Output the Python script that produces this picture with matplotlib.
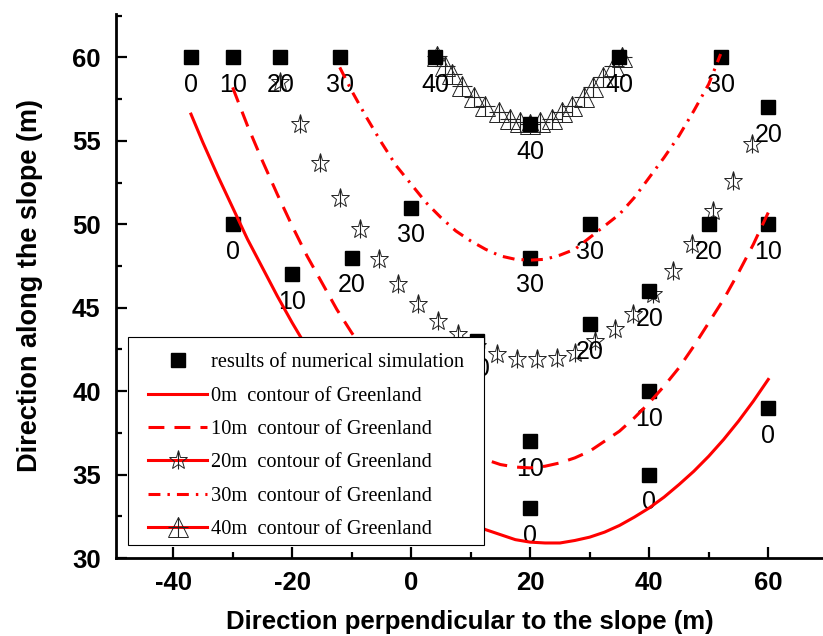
#! /usr/bin/env python3

import matplotlib.pyplot as plt
from matplotlib.lines import Line2D
from matplotlib.patches import Rectangle
from matplotlib.ticker import MultipleLocator

plt.rcParams['font.family'] = ['Liberation Sans', 'DejaVu Sans']
plt.rcParams['axes.unicode_minus'] = False

# numerical simulation results: position and contour height label
sim_x = [-37, -30, -22, -12, 4, 35, 52,
         20, 20,
         -30, -20, -10, 0, 30,
         30, 40, 50, 60, 60,
         40, 40, 60, 20, 20, 11]
sim_y = [60, 60, 60, 60, 60, 60, 60,
         56, 48,
         50, 47, 48, 51, 50,
         44, 46, 50, 57, 50,
         40, 35, 39, 37, 33, 43]
sim_lab = ['0', '10', '20', '30', '40', '40', '30',
           '40', '30',
           '0', '10', '20', '30', '30',
           '20', '20', '20', '20', '10',
           '10', '0', '0', '10', '0', '20']

# Greenland contours
c0_x = [-37, -35, -32.5, -30, -27.5, -25, -22.5, -20, -17.5, -15, -12.5, -10, -7.5, -5,
        -2.5, 0, 2.5, 5, 7.5, 10, 12.5, 15, 17.5, 20, 22.5, 25, 27.5, 30, 32.5, 35,
        37.5, 40, 42.5, 45, 47.5, 50, 52.5, 55, 57.5, 60]
c0_y = [56.6, 54.9, 52.9, 51.0, 49.1, 47.4, 45.7, 44.1, 42.6, 41.2, 39.9, 38.7, 37.5, 36.5,
        35.5, 34.7, 33.9, 33.2, 32.6, 32.1, 31.7, 31.4, 31.1, 30.95, 30.9, 30.9, 31.05, 31.25,
        31.55, 31.95, 32.45, 33.0, 33.65, 34.4, 35.2, 36.1, 37.1, 38.2, 39.4, 40.7]

c10_x = [-30, -27.5, -25, -22.5, -20, -17.5, -15, -12.5, -10, -5, 0, 5, 7.5, 10, 12.5,
         15, 17.5, 20, 22.5, 25, 27.5, 30, 32.5, 35, 37.5, 40, 42.5, 45, 47.5, 50, 52.5,
         55, 57.5, 60]
c10_y = [58.2, 55.9, 53.8, 51.8, 49.9, 48.1, 46.5, 44.9, 43.5, 41.0, 38.9, 37.4, 36.7,
         36.2, 35.9, 35.6, 35.45, 35.4, 35.5, 35.7, 36.0, 36.4, 37.0, 37.6, 38.4, 39.3,
         40.3, 41.4, 42.7, 44.1, 45.5, 47.1, 48.8, 50.7]

c20_x = [-22.0, -18.7, -15.3, -11.9, -8.6, -5.4, -2.2, 1.2, 4.5, 7.9, 11.1, 14.5, 17.8,
         21.2, 24.5, 27.6, 30.9, 34.3, 37.3, 40.7, 44.0, 47.2, 50.8, 54.1, 57.3]
c20_y = [58.5, 56.0, 53.7, 51.6, 49.7, 47.9, 46.4, 45.2, 44.2, 43.4, 42.7, 42.2, 41.9,
         41.9, 42.0, 42.3, 43.0, 43.7, 44.6, 45.8, 47.2, 48.8, 50.8, 52.6, 54.8]

c30_x = [-12, -10, -7.5, -5, -2.5, 0, 2.5, 5, 7.5, 10, 12.5, 15, 17.5, 20, 22.5, 25,
         27.5, 30, 32.5, 35, 37.5, 40, 42.5, 45, 47.5, 50, 52]
c30_y = [59.4, 58.0, 56.4, 54.9, 53.5, 52.4, 51.3, 50.4, 49.6, 49.0, 48.5, 48.1, 47.9,
         47.85, 47.9, 48.15, 48.5, 49.2, 49.9, 50.6, 51.6, 52.8, 54.0, 55.3, 56.8, 58.4,
         60.2]

c40_x = [4.3, 5.7, 6.8, 8.5, 10.5, 12.4, 14.7, 16.6, 18.3, 20.0, 21.7, 23.6, 25.3, 27.0,
         29.0, 30.6, 32.3, 34.0, 35.4]
c40_y = [60.1, 59.5, 59.0, 58.3, 57.6, 57.1, 56.7, 56.3, 56.1, 56.0, 56.1, 56.3, 56.7,
         57.1, 57.6, 58.2, 58.8, 59.5, 60.0]

RED = '#ff0000'
dash10 = (0, (5.2, 3.3))
dashdot30 = (0, (3.9, 2.3, 0.8, 2.3))
star_kw = dict(marker='*', ms=14, mfc='none', mec='#222222', mew=0.7, ls='none')
tick_kw = dict(marker='|', ms=13, mec='#222222', mew=0.8, ls='none')
tri_kw = dict(marker='^', ms=15, mfc='none', mec='#222222', mew=0.7, ls='none')
plus_kw = dict(marker='+', ms=14, mec='#222222', mew=0.8, ls='none')

fig = plt.figure(figsize=(8.23, 6.36), dpi=100)
ax = fig.add_axes([116/823, 78/636, 707/823, 544/636])

ax.plot(sim_x, sim_y, 's', color='black', ms=10, zorder=2)
for x, y, s in zip(sim_x, sim_y, sim_lab):
    ax.annotate(s, (x, y), xytext=(0, -20), textcoords='offset points',
                ha='center', va='center', fontsize=18, zorder=3)

ax.plot(c40_x, c40_y, **tri_kw, zorder=1)
ax.plot(c40_x, c40_y, **plus_kw, zorder=1)
ax.plot(c20_x, c20_y, **star_kw, zorder=1)
ax.plot(c20_x, c20_y, **tick_kw, zorder=1)

ax.plot(c0_x, c0_y, color=RED, lw=2.2, zorder=4)
ax.plot(c10_x, c10_y, color=RED, lw=2.2, ls=dash10, zorder=4)
ax.plot(c30_x, c30_y, color=RED, lw=2.2, ls=dashdot30, zorder=4)

ax.set_xlim(-49.6, 69.2)
ax.set_ylim(30, 62.6)
ax.set_xticks([-40, -20, 0, 20, 40, 60])
ax.set_yticks([30, 35, 40, 45, 50, 55, 60])
ax.xaxis.set_minor_locator(MultipleLocator(10))
ax.yaxis.set_minor_locator(MultipleLocator(2.5))

for side in ['top', 'right']:
    ax.spines[side].set_visible(False)
for side in ['left', 'bottom']:
    ax.spines[side].set_linewidth(2)

ax.tick_params(which='major', direction='in', length=8, width=1.6,
               labelsize=18.5, pad=9)
ax.tick_params(which='minor', direction='in', length=4.5, width=1.6)
ax.tick_params(axis='y', pad=11)
for lab in ax.get_xticklabels() + ax.get_yticklabels():
    lab.set_fontweight('bold')

ax.set_xlabel('Direction perpendicular to the slope (m)', fontsize=18.5,
              fontweight='bold', labelpad=11)
ax.set_ylabel('Direction along the slope (m)', fontsize=19.5,
              fontweight='bold', labelpad=21)

# legend frame drawn as its own box so the entries can sit lower inside it
ax.add_patch(Rectangle((0.017, 0.024), 0.5035, 0.3824, transform=ax.transAxes,
                       facecolor='white', edgecolor='black', lw=0.8, zorder=9))

handles = [
    Line2D([], [], ls='none', marker='s', color='black', ms=10),
    Line2D([], [], color=RED, lw=2.2),
    Line2D([], [], color=RED, lw=2.2, ls=dash10),
    (Line2D([], [], color=RED, lw=2.2), Line2D([], [], **star_kw), Line2D([], [], **tick_kw)),
    Line2D([], [], color=RED, lw=2.2, ls=dashdot30),
    (Line2D([], [], color=RED, lw=2.2), Line2D([], [], **tri_kw), Line2D([], [], **plus_kw)),
]
labels = ['results of numerical simulation',
          '0m  contour of Greenland',
          '10m  contour of Greenland',
          '20m  contour of Greenland',
          '30m  contour of Greenland',
          '40m  contour of Greenland']
leg = ax.legend(handles, labels, loc='upper left', bbox_to_anchor=(0.0453, 0.3768),
                borderaxespad=0, borderpad=0, handlelength=2.9, handletextpad=0.2,
                labelspacing=0.69, frameon=False,
                prop={'family': 'Liberation Serif', 'size': 14.7})
leg.set_zorder(10)

fig.savefig('out.png', dpi=100)
